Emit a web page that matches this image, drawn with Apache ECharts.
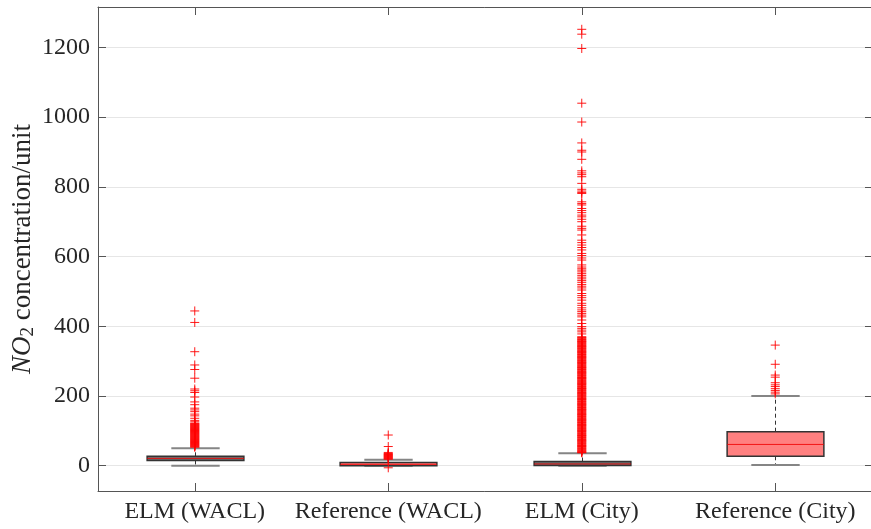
<!DOCTYPE html>
<html><head><meta charset="utf-8">
<script src="https://cdn.jsdelivr.net/npm/echarts@6/dist/echarts.min.js"></script>
<style>html,body{margin:0;padding:0;background:#fff}#chart{width:871px;height:529px}</style>
</head><body><div id="chart"></div>
<script>
const categories = ['ELM (WACL)', 'Reference (WACL)', 'ELM (City)', 'Reference (City)'];
const lowerWhisker = [0, 0, 0, 2];
const q1 = [15, 0, 0.5, 27];
const median = [21, 4, 5, 61];
const q3 = [27, 9, 12, 97.5];
const upperWhisker = [50, 17, 36, 200];

const outliersElmWacl = [444, 411, 327, 289, 276, 251, 220, 215, 210, 197, 183, 175, 165, 160, 155, 148, 143, 136, 130, 126,
  122, 120.5, 119, 117.5, 116, 114.5, 113, 111.5, 110, 108.5, 107, 105.5, 104, 102.5, 101, 99.5, 98, 96.5, 95, 93.5,
  92, 90.5, 89, 87.5, 86, 84.5, 83, 81.5, 80, 78.5, 77, 75.5, 74, 72.5, 71, 69.5, 68, 66.5, 65, 63.5, 62, 60.5, 59,
  57.5, 56, 54.5, 53];
const outliersRefWacl = [88, 55, 38, 35, 33.5, 32, 30.5, 29, 27.5, 26, 24.5, 23, 21.5, 20, 18.5, -6];
const outliersElmCity = [1252, 1238, 1197, 1040, 986, 926, 905, 900, 879, 846, 840, 835, 829, 810, 793, 788, 784, 781,
  757, 752, 748, 738, 732, 726, 719, 714, 707, 700, 687, 681, 676, 662, 647, 640, 633, 626, 619, 609, 603, 596, 590,
  576, 570, 565, 561, 556, 551, 546, 541, 536, 531, 526, 520, 515, 510, 504, 494, 488, 482, 475, 466, 460, 453, 447,
  442, 437, 432, 427, 418, 408, 399, 394, 389, 384, 378, 370,
  368, 366, 364, 362, 360, 358, 356.5, 355, 353, 351, 349, 347, 345, 343, 341.5, 340, 338, 336, 334, 332, 330, 328,
  326.5, 325, 323, 321, 319, 317, 315, 313, 311.5, 310, 308, 306, 304, 302, 300, 298, 296.5, 295, 293, 291, 289, 287,
  285, 283, 281.5, 280, 278, 276, 274, 272, 270, 268, 266.5, 265, 263, 261, 259, 257, 255, 253, 251.5, 250, 248, 246,
  244, 242, 240, 238, 236.5, 235, 233, 231, 229, 227, 225, 223, 221.5, 220, 218, 216, 214, 212, 210, 208, 206.5, 205,
  203, 201, 199, 197, 195, 193, 191.5, 190, 188, 186, 184, 182, 180, 178, 176.5, 175, 173, 171, 169, 167, 165, 163,
  161.5, 160, 158, 156, 154, 152, 150, 148, 146.5, 145, 143, 141, 139, 137, 135, 133, 131.5, 130, 128, 126, 124, 122,
  120, 118, 116.5, 115, 113, 111, 109, 107, 105, 103, 101.5, 100, 98, 96, 94, 92, 90, 88, 86.5, 85, 83, 81, 79, 77,
  75, 73, 71.5, 70, 68, 66, 64, 62, 60, 58, 56.5, 55, 53, 51, 49, 47, 45, 43, 41.5, 40, 38, 37];
const outliersRefCity = [346, 291, 260, 254, 238, 232, 227, 221, 216, 211, 206];

const yTickLabels = [0, 200, 400, 600, 800, 1000, 1200];
const yMin = -72.6, yMax = 1316;

const outlierLists = [outliersElmWacl, outliersRefWacl, outliersElmCity, outliersRefCity];
const boxData = categories.map((c, i) => [i, lowerWhisker[i], q1[i], median[i], q3[i], upperWhisker[i]]);
const outlierData = [];
outlierLists.forEach((list, i) => list.forEach(v => outlierData.push([i, v])));

const FONT = 'Liberation Serif';
const TXT = '#262626';
const AX = '#555';

const chart = echarts.init(document.getElementById('chart'), null, {renderer: 'canvas'});
chart.setOption({
  animation: false,
  backgroundColor: '#fff',
  grid: {left: 98, top: 7, width: 774, height: 484, containLabel: false, outerBoundsMode: 'none'},
  xAxis: [{
    type: 'category', data: categories, position: 'bottom', boundaryGap: true,
    axisLine: {show: true, onZero: false, lineStyle: {color: AX, width: 1}},
    axisTick: {show: true, inside: true, length: 8, alignWithLabel: true, lineStyle: {color: AX}},
    axisLabel: {fontFamily: FONT, fontSize: 24, color: TXT, margin: 9, interval: 0},
    splitLine: {show: false}
  }, {
    type: 'category', data: categories, position: 'top', boundaryGap: true,
    axisLine: {show: true, onZero: false, lineStyle: {color: AX, width: 1}},
    axisTick: {show: true, inside: true, length: 8, alignWithLabel: true, lineStyle: {color: AX}},
    axisLabel: {show: false}, splitLine: {show: false}
  }],
  yAxis: [{
    type: 'value', min: yMin, max: yMax, splitNumber: 7, position: 'left',
    name: '{it|NO}{sub|2}{n| concentration/unit}',
    nameLocation: 'middle', nameGap: 60, nameRotate: 90, nameMoveOverlap: false,
    nameTextStyle: {
      fontFamily: FONT, fontSize: 27, color: TXT,
      rich: {
        it: {fontFamily: FONT, fontSize: 27, fontStyle: 'italic', color: TXT},
        sub: {fontFamily: FONT, fontSize: 19, color: TXT, padding: [12, 0, 0, 0]},
        n: {fontFamily: FONT, fontSize: 27, color: TXT}
      }
    },
    axisLine: {show: true, onZero: false, lineStyle: {color: AX, width: 1}},
    axisTick: {show: true, inside: true, length: 8, lineStyle: {color: AX}},
    axisLabel: {fontFamily: FONT, fontSize: 24, color: TXT, margin: 8,
      formatter: v => yTickLabels.indexOf(v) >= 0 ? String(v) : ''},
    splitLine: {show: true, lineStyle: {color: '#e6e6e6', width: 1}}
  }, {
    type: 'value', min: yMin, max: yMax, splitNumber: 7, position: 'right',
    axisLine: {show: true, onZero: false, lineStyle: {color: AX, width: 1}},
    axisTick: {show: true, inside: true, length: 7, lineStyle: {color: AX}},
    axisLabel: {show: false}, splitLine: {show: false}
  }],
  series: [{
    type: 'custom', xAxisIndex: 0, yAxisIndex: 0, silent: true, z: 2,
    data: boxData,
    encode: {x: 0, y: [1, 2, 3, 4, 5]},
    renderItem: function (params, api) {
      const idx = api.value(0);
      const band = api.size([1, 0])[0];
      const boxW = band * 0.5, capW = band * 0.25;
      const pLw = api.coord([idx, api.value(1)]);
      const pQ1 = api.coord([idx, api.value(2)]);
      const pMed = api.coord([idx, api.value(3)]);
      const pQ3 = api.coord([idx, api.value(4)]);
      const pUw = api.coord([idx, api.value(5)]);
      const x = Math.round(pMed[0]) + 0.5;
      const fill = idx % 2 === 0 ? '#6e6e6e' : '#ff8080';
      const dash = {stroke: '#333', lineWidth: 1, lineDash: [4, 3]};
      const cap = {stroke: '#858585', lineWidth: 2};
      return {type: 'group', children: [
        {type: 'line', shape: {x1: x, y1: pQ3[1], x2: x, y2: pUw[1]}, style: dash},
        {type: 'line', shape: {x1: x, y1: pQ1[1], x2: x, y2: pLw[1]}, style: dash},
        {type: 'line', shape: {x1: x - capW / 2, y1: pUw[1], x2: x + capW / 2, y2: pUw[1]}, style: cap},
        {type: 'line', shape: {x1: x - capW / 2, y1: pLw[1], x2: x + capW / 2, y2: pLw[1]}, style: cap},
        {type: 'rect', shape: {x: x - boxW / 2, y: pQ3[1], width: boxW, height: pQ1[1] - pQ3[1]},
          style: {fill: fill, stroke: '#333', lineWidth: 1.5}},
        {type: 'line', shape: {x1: x - boxW / 2, y1: pMed[1], x2: x + boxW / 2, y2: pMed[1]},
          style: {stroke: 'rgba(240,0,0,0.85)', lineWidth: 1}}
      ]};
    }
  }, {
    type: 'scatter', xAxisIndex: 0, yAxisIndex: 0, silent: true, z: 3,
    data: outlierData,
    symbol: 'path://M0,5L10,5M5,0L5,10',
    symbolSize: 9,
    itemStyle: {color: 'rgba(0,0,0,0)', borderColor: '#ff0000', borderWidth: 1, opacity: 0.9},
    emphasis: {disabled: true}
  }]
});
</script>
</body></html>
